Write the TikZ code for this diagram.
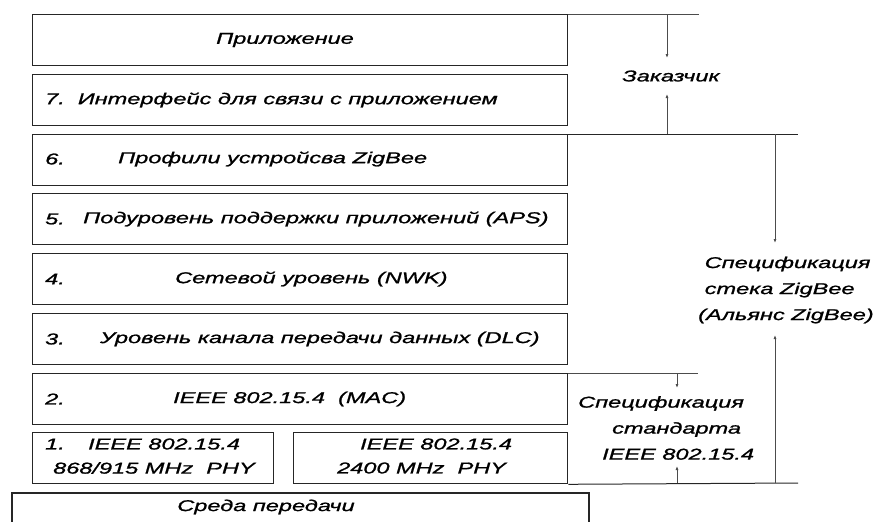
\documentclass[tikz,border=0pt]{standalone}
\usepackage{fontspec}
\setmainfont{Liberation Sans}
\newfontfamily\arialx[FakeStretch=1.5,FakeBold=1.2]{Liberation Sans}
\usetikzlibrary{arrows.meta}
\begin{document}
\begin{tikzpicture}[x=1pt,y=-1pt,
  box/.style={draw=black!85, line width=1.3pt, minimum width=535pt, minimum height=51pt, inner sep=0pt, anchor=north west},
  phy/.style={draw=black!85, line width=1.3pt, minimum height=51pt, inner sep=0pt, anchor=north west},
  txt/.style={inner sep=0pt, font=\arialx\itshape\fontsize{15.7}{26}\selectfont},
  lt/.style={txt, anchor=west},
  rline/.style={draw=black!70, line width=0.9pt},
  arr/.style={draw=black!70, line width=0.9pt, -{Latex[length=4pt,width=3pt]}}]
\useasboundingbox (0,0) rectangle (873,522);
% boxes
\node[box] (app) at (32,14) {};
\node[box] (l7) at (32,74) {};
\node[box] (l6) at (32,134) {};
\node[box] (l5) at (32,193) {};
\node[box] (l4) at (32,253) {};
\node[box] (l3) at (32,313) {};
\node[box] (l2) at (32,373) {};
\node[phy, minimum width=241pt] (p1) at (32,432) {};
\node[phy, minimum width=274pt] (p2) at (293,432) {};
\draw[draw=black!85, line width=1.3pt] (12,522) -- (12,493) -- (589,493) -- (589,522);
% texts in boxes
\node[txt] (tapp) at (285,40) {Приложение};
\node[lt] (n7) at (45,100) {7.\ \ Интерфейс для связи с приложением};
\node[lt] (n6) at (45,159) {6.};
\node[lt] (t6) at (118,159) {Профили устройсва ZigBee};
\node[lt] (n5) at (45,219) {5.};
\node[lt] (t5) at (83,219) {Подуровень поддержки приложений (APS)};
\node[lt] (n4) at (45,279) {4.};
\node[lt] (t4) at (175,279) {Сетевой уровень (NWK)};
\node[lt] (n3) at (45,339) {3.};
\node[lt] (t3) at (100,339) {Уровень канала передачи данных (DLC)};
\node[lt] (n2) at (45,399) {2.};
\node[lt] (t2) at (173,399) {IEEE 802.15.4\ \ (MAC)};
\node[lt] (n1) at (45,444) {1.};
\node[lt] (t1a) at (88,444) {IEEE 802.15.4};
\node[lt] (t1b) at (53,468) {868/915 MHz\ \ PHY};
\node[lt] (t2a) at (360,444) {IEEE 802.15.4};
\node[lt] (t2b) at (337,468) {2400 MHz\ \ PHY};
\node[txt] (med) at (266,507) {Среда передачи};
% right side labels
\node[txt] (cust) at (671,76) {Заказчик};
\node[txt, align=left, anchor=west] (zb) at (698,290) {\ Спецификация\\\ стека ZigBee\\(Альянс ZigBee)};
\node[txt, align=left, anchor=west] (ieee) at (578,428) {Спецификация\\\hspace*{34pt}стандарта\\\hspace*{24pt}IEEE 802.15.4};
% coordinates
\coordinate (a1) at (699,14);
\coordinate (a2) at (798,134);
\coordinate (a3) at (698,373);
\coordinate (a4) at (798,483);
\coordinate (cTop) at (667,14);
\coordinate (cTopE) at (667,58);
\coordinate (cBot) at (667,134);
\coordinate (cBotE) at (667,94);
\coordinate (zTop) at (775,134);
\coordinate (zTopE) at (775,243);
\coordinate (zBot) at (775,483);
\coordinate (zBotE) at (775,335);
\coordinate (iTop) at (677,373);
\coordinate (iTopE) at (677,388);
\coordinate (iBot) at (677,483);
\coordinate (iBotE) at (677,466);
% lines
\draw[rline] (app.north east) -- (a1);
\draw[draw=black!85, line width=1pt] (l6.north east) -- (a2);
\draw[rline] (l2.north east) -- (a3);
\draw[draw=black!85, line width=1pt] (p2.south east) -- (a4);
\draw[arr] (cTop) -- (cTopE);
\draw[arr] (cBot) -- (cBotE);
\draw[arr] (zTop) -- (zTopE);
\draw[arr] (zBot) -- (zBotE);
\draw[arr] (iTop) -- (iTopE);
\draw[arr] (iBot) -- (iBotE);
\end{tikzpicture}
\end{document}
